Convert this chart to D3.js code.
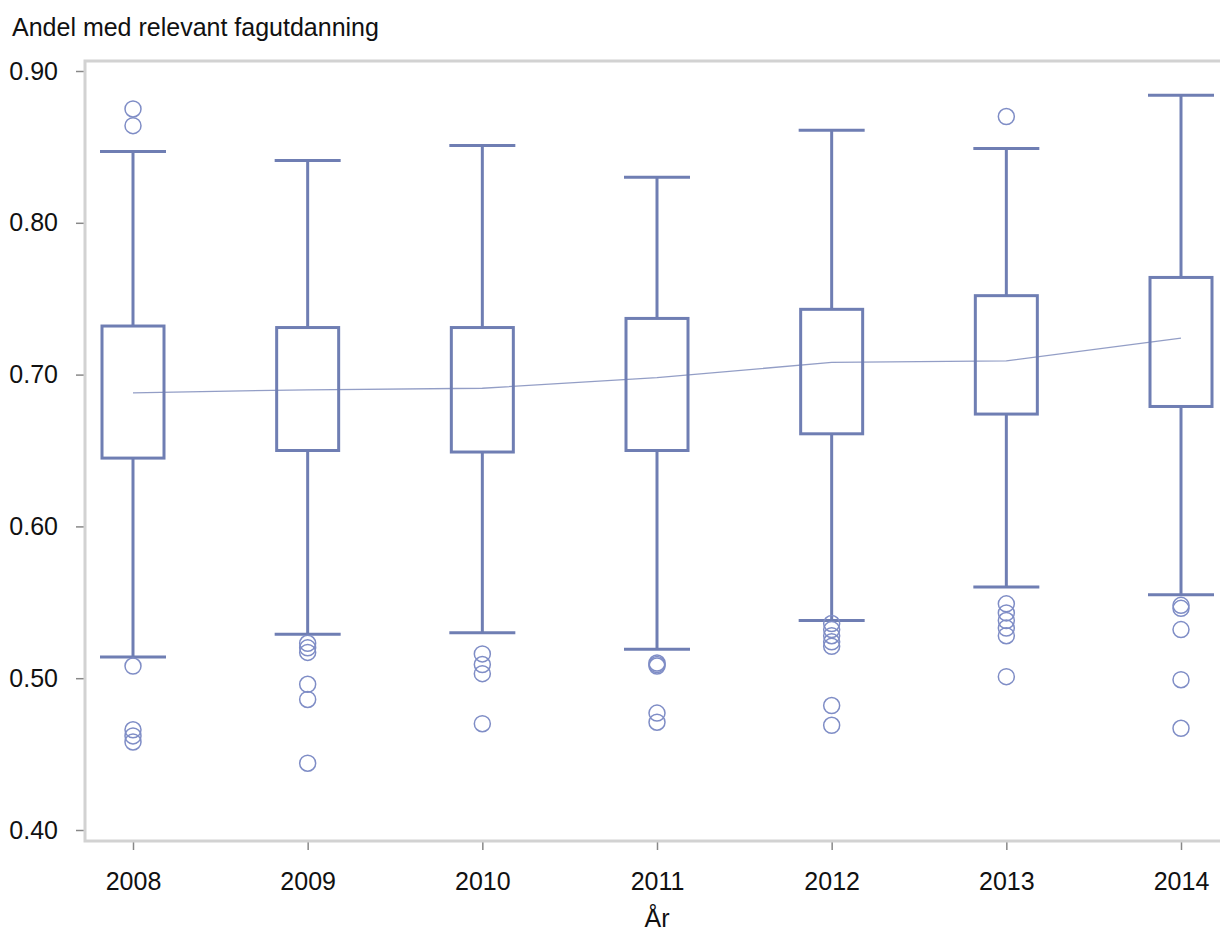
<!DOCTYPE html>
<html>
<head>
<meta charset="utf-8">
<script src="https://cdn.jsdelivr.net/npm/d3@7"></script>
<style>
  body { margin: 0; background: #fff; overflow: hidden; }
  svg { display: block; }
</style>
</head>
<body>
<div id="chart"></div>
<script>
const years = ["2008", "2009", "2010", "2011", "2012", "2013", "2014"];
const whiskerHigh = [0.847, 0.841, 0.851, 0.830, 0.861, 0.849, 0.884];
const q3 = [0.732, 0.731, 0.731, 0.737, 0.743, 0.752, 0.764];
const q1 = [0.645, 0.650, 0.649, 0.650, 0.661, 0.674, 0.679];
const whiskerLow = [0.514, 0.529, 0.530, 0.519, 0.538, 0.560, 0.555];
const connectVals = [0.688, 0.690, 0.691, 0.698, 0.708, 0.709, 0.724];
const outliers = [
  [0.875, 0.864, 0.508, 0.466, 0.462, 0.458],
  [0.523, 0.520, 0.517, 0.496, 0.486, 0.444],
  [0.516, 0.509, 0.503, 0.470],
  [0.510, 0.509, 0.508, 0.477, 0.471],
  [0.536, 0.532, 0.528, 0.524, 0.521, 0.482, 0.469],
  [0.870, 0.549, 0.543, 0.538, 0.533, 0.528, 0.501],
  [0.548, 0.546, 0.532, 0.499, 0.467]
];
const yTicks = [0.4, 0.5, 0.6, 0.7, 0.8, 0.9];

const width = 1220, height = 934;
const color = "#6F7EB3";
const font = "'Liberation Sans', Arial, sans-serif";
const fontSize = 25;

const svg = d3.select("#chart").append("svg")
  .attr("width", width)
  .attr("height", height)
  .attr("font-family", font);

const frame = { left: 85, top: 61, right: 1232, bottom: 841 };

let x = d3.scalePoint().domain(years).range([133, 1181]);
let y = d3.scaleLinear().domain([0.4, 0.9]).range([830, 71]);

// title
svg.append("text")
  .attr("x", 12)
  .attr("y", 36)
  .attr("font-size", fontSize)
  .attr("fill", "#111")
  .text("Andel med relevant fagutdanning");

// axes
let yAxis = svg.append("g")
  .attr("transform", `translate(${frame.left - 1},0)`)
  .call(d3.axisLeft(y).tickValues(yTicks).tickFormat(d3.format(".2f")).tickSize(8).tickSizeOuter(0));
yAxis.select(".domain").remove();
yAxis.selectAll("line").attr("stroke", "#888").attr("stroke-width", 1.5);
yAxis.selectAll("text").attr("font-size", fontSize).attr("fill", "#111").attr("x", -26)
  .attr("font-family", font);

let xAxis = svg.append("g")
  .attr("transform", `translate(0,${frame.bottom + 1})`)
  .call(d3.axisBottom(x).tickSize(8).tickSizeOuter(0));
xAxis.select(".domain").remove();
xAxis.selectAll("line").attr("stroke", "#888").attr("stroke-width", 1.5);
xAxis.selectAll("text").attr("font-size", fontSize).attr("fill", "#111").attr("y", 30)
  .attr("font-family", font);

svg.append("text")
  .attr("x", x("2011"))
  .attr("y", 927)
  .attr("text-anchor", "middle")
  .attr("font-size", fontSize)
  .attr("fill", "#111")
  .text("År");

// frame
svg.append("rect")
  .attr("x", frame.left)
  .attr("y", frame.top)
  .attr("width", frame.right - frame.left)
  .attr("height", frame.bottom - frame.top)
  .attr("fill", "none")
  .attr("stroke", "#d2d2d2")
  .attr("stroke-width", 3);

const boxW = 62, capW = 66;
const data = years.map((yr, i) => ({
  year: yr, hi: whiskerHigh[i], q3: q3[i], q1: q1[i], lo: whiskerLow[i],
  mid: connectVals[i], out: outliers[i]
}));

let boxes = svg.append("g").selectAll("g")
  .data(data)
  .join("g")
  .attr("stroke", color)
  .attr("stroke-width", 3)
  .attr("fill", "none");

boxes.append("line")
  .attr("x1", (d) => x(d.year)).attr("x2", (d) => x(d.year))
  .attr("y1", (d) => y(d.hi)).attr("y2", (d) => y(d.q3));
boxes.append("line")
  .attr("x1", (d) => x(d.year)).attr("x2", (d) => x(d.year))
  .attr("y1", (d) => y(d.q1)).attr("y2", (d) => y(d.lo));
boxes.append("line")
  .attr("x1", (d) => x(d.year) - capW / 2).attr("x2", (d) => x(d.year) + capW / 2)
  .attr("y1", (d) => y(d.hi)).attr("y2", (d) => y(d.hi));
boxes.append("line")
  .attr("x1", (d) => x(d.year) - capW / 2).attr("x2", (d) => x(d.year) + capW / 2)
  .attr("y1", (d) => y(d.lo)).attr("y2", (d) => y(d.lo));
boxes.append("rect")
  .attr("x", (d) => x(d.year) - boxW / 2)
  .attr("width", boxW)
  .attr("y", (d) => y(d.q3))
  .attr("height", (d) => y(d.q1) - y(d.q3));

boxes.selectAll("circle")
  .data((d) => d.out.map((v) => ({ year: d.year, v })))
  .join("circle")
  .attr("cx", (d) => x(d.year))
  .attr("cy", (d) => y(d.v))
  .attr("r", 8)
  .attr("stroke-width", 1.5)
  .attr("stroke", "#7f8dc6");

// connect line
svg.append("path")
  .datum(data)
  .attr("fill", "none")
  .attr("stroke", color)
  .attr("stroke-opacity", 0.75)
  .attr("stroke-width", 1.3)
  .attr("d", d3.line().x((d) => x(d.year)).y((d) => y(d.mid)));
</script>
</body>
</html>
